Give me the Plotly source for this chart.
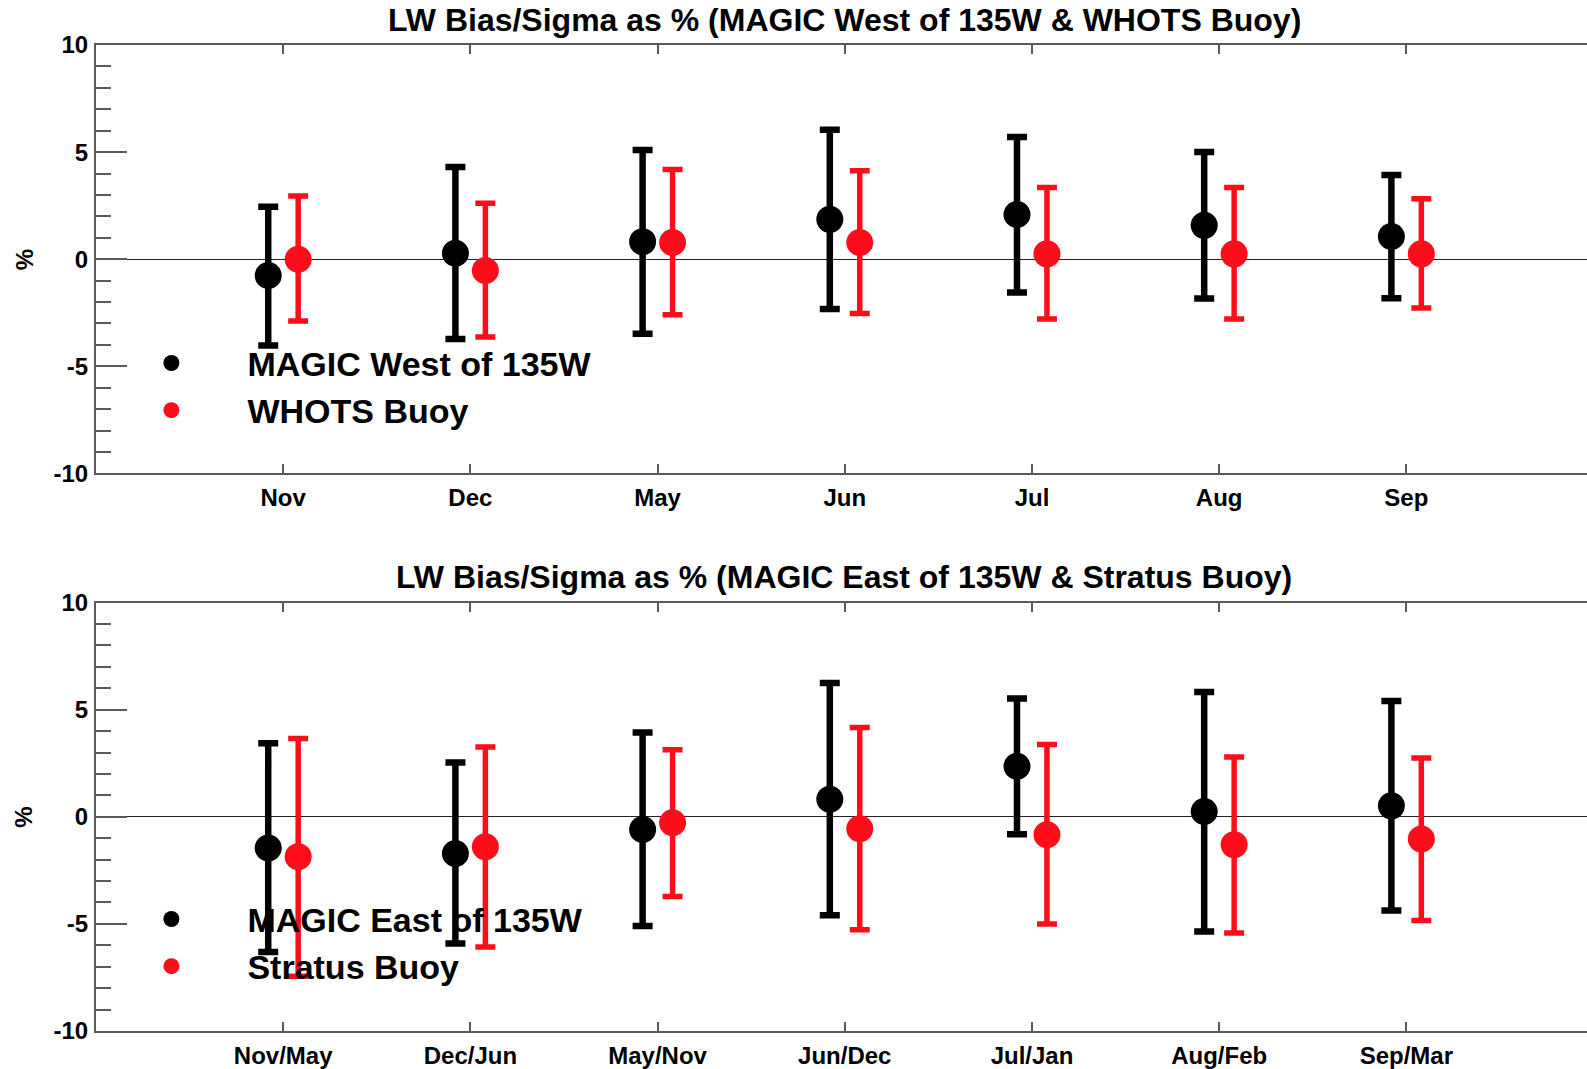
import plotly.graph_objects as go

# ---------------- data ----------------
months_top = ["Nov", "Dec", "May", "Jun", "Jul", "Aug", "Sep"]
months_bottom = ["Nov/May", "Dec/Jun", "May/Nov", "Jun/Dec", "Jul/Jan", "Aug/Feb", "Sep/Mar"]

west_name = "MAGIC West of 135W"
west_mean = [-0.76, 0.28, 0.82, 1.86, 2.09, 1.58, 1.06]
west_hi = [2.45, 4.31, 5.10, 6.04, 5.71, 5.01, 3.93]
west_lo = [-4.03, -3.72, -3.48, -2.33, -1.55, -1.83, -1.82]

whots_name = "WHOTS Buoy"
whots_mean = [0.00, -0.53, 0.78, 0.78, 0.25, 0.25, 0.25]
whots_hi = [2.95, 2.61, 4.19, 4.13, 3.35, 3.35, 2.82]
whots_lo = [-2.89, -3.63, -2.59, -2.54, -2.79, -2.79, -2.28]

east_name = "MAGIC East of 135W"
east_mean = [-1.46, -1.71, -0.59, 0.82, 2.36, 0.25, 0.51]
east_hi = [3.43, 2.54, 3.94, 6.25, 5.52, 5.83, 5.40]
east_lo = [-6.31, -5.92, -5.10, -4.60, -0.82, -5.35, -4.37]

stratus_name = "Stratus Buoy"
stratus_mean = [-1.86, -1.40, -0.28, -0.56, -0.84, -1.30, -1.04]
stratus_hi = [3.66, 3.26, 3.13, 4.17, 3.38, 2.79, 2.74]
stratus_lo = [-7.44, -6.08, -3.72, -5.27, -5.01, -5.43, -4.84]

title_top = "LW Bias/Sigma as % (MAGIC West of 135W & WHOTS Buoy)"
title_bottom = "LW Bias/Sigma as % (MAGIC East of 135W & Stratus Buoy)"
y_ticks = [-10, -5, 0, 5, 10]
y_ticklabels = ["-10", "-5", "0", "5", "10"]

# ---------------- style ----------------
FONT = "Liberation Sans, Arial, Helvetica, sans-serif"
FRAME = "#5a5a5a"
OFFSET = 0.08

fig = go.Figure()


def add_series(cats, mean, hi, lo, name, color, thick, shift, xa, ya, legend):
    xs = [i + 1 + shift for i in range(len(cats))]
    fig.add_trace(go.Scatter(
        x=xs, y=mean, mode="markers", name=name,
        marker=dict(size=27, color=color),
        error_y=dict(type="data", symmetric=False,
                     array=[h - m for h, m in zip(hi, mean)],
                     arrayminus=[m - l for m, l in zip(mean, lo)],
                     color=color, thickness=thick, width=10),
        xaxis=xa, yaxis=ya, legend=legend,
    ))


add_series(months_top, west_mean, west_hi, west_lo, west_name, "black", 6.5, -OFFSET, "x", "y", "legend")
add_series(months_top, whots_mean, whots_hi, whots_lo, whots_name, "#ff0d1a", 5.5, OFFSET, "x", "y", "legend")
add_series(months_bottom, east_mean, east_hi, east_lo, east_name, "black", 6.5, -OFFSET, "x2", "y2", "legend2")
add_series(months_bottom, stratus_mean, stratus_hi, stratus_lo, stratus_name, "#ff0d1a", 5.5, OFFSET, "x2", "y2", "legend2")

XR = [0, 7.965]


def xaxis(ticktext, anchor):
    return dict(
        range=XR, anchor=anchor, domain=[0, 1], automargin=False,
        tickvals=list(range(1, len(ticktext) + 1)), ticktext=ticktext,
        ticks="inside", ticklen=9, tickwidth=1.5, tickcolor=FRAME,
        showline=True, linecolor=FRAME, linewidth=2, mirror="ticks",
        showgrid=False, zeroline=False,
        tickfont=dict(family=FONT, size=24, color="black", weight="bold"),
        ticklabelstandoff=2,
    )


def yaxis(domain, anchor):
    return dict(
        range=[-10, 10], domain=domain, anchor=anchor, automargin=False,
        tickvals=y_ticks, ticktext=y_ticklabels,
        ticks="inside", ticklen=31, tickwidth=1.5, tickcolor=FRAME,
        minor=dict(dtick=1, ticks="inside", ticklen=15, tickwidth=1.5, tickcolor=FRAME, showgrid=False),
        showline=True, linecolor=FRAME, linewidth=2, mirror=False,
        showgrid=False, zeroline=True, zerolinecolor="#222222", zerolinewidth=1,
        tickfont=dict(family=FONT, size=24, color="black", weight="bold"),
        ticklabelstandoff=1,
    )


def yright(over, anchor):
    return dict(
        range=[-10, 10], overlaying=over, anchor=anchor, side="right", automargin=False,
        tickvals=y_ticks, ticks="inside", ticklen=25, tickwidth=1.5, tickcolor=FRAME,
        minor=dict(dtick=1, ticks="inside", ticklen=10, tickwidth=1.5, tickcolor=FRAME, showgrid=False),
        showline=False, showgrid=False, zeroline=False, showticklabels=False,
    )


TOP_DOM = [0.5655, 1.0]
BOT_DOM = [0.0, 0.4345]

legend_common = dict(
    xanchor="left", yanchor="top", bgcolor="rgba(0,0,0,0)",
    font=dict(family=FONT, size=34, color="black", weight="bold"),
    itemwidth=142, tracegroupgap=0,
)

fig.update_layout(
    width=1587, height=1069,
    margin=dict(l=96, r=0, t=45, b=38, autoexpand=False),
    paper_bgcolor="white", plot_bgcolor="white",
    showlegend=True,
    xaxis=xaxis(months_top, "y"),
    yaxis=yaxis(TOP_DOM, "x"),
    xaxis2=xaxis(months_bottom, "y2"),
    yaxis2=yaxis(BOT_DOM, "x2"),
    yaxis3=yright("y", "x"),
    yaxis4=yright("y2", "x2"),
    legend=dict(x=-0.0004, y=0.7065, **legend_common),
    legend2=dict(x=-0.0004, y=0.1426, **legend_common),
    annotations=[
        dict(text=title_top, xref="paper", yref="paper", x=0.502, y=1.0253,
             xanchor="center", yanchor="middle", showarrow=False,
             font=dict(family=FONT, size=32, color="black", weight="bold")),
        dict(text=title_bottom, xref="paper", yref="paper", x=0.502, y=0.4604,
             xanchor="center", yanchor="middle", showarrow=False,
             font=dict(family=FONT, size=32, color="black", weight="bold")),
        dict(text="%", xref="paper", yref="paper", x=-0.0483, y=sum(TOP_DOM) / 2,
             xanchor="center", yanchor="middle", showarrow=False, textangle=-90,
             font=dict(family=FONT, size=24, color="black", weight="bold")),
        dict(text="%", xref="paper", yref="paper", x=-0.0483, y=sum(BOT_DOM) / 2,
             xanchor="center", yanchor="middle", showarrow=False, textangle=-90,
             font=dict(family=FONT, size=24, color="black", weight="bold")),
    ],
)

# remove the default page margin so the figure fills the window exactly
fig.write_html("out.html",
               config={"displayModeBar": False},
               post_script="document.body.style.margin='0';document.body.style.overflow='hidden';")
